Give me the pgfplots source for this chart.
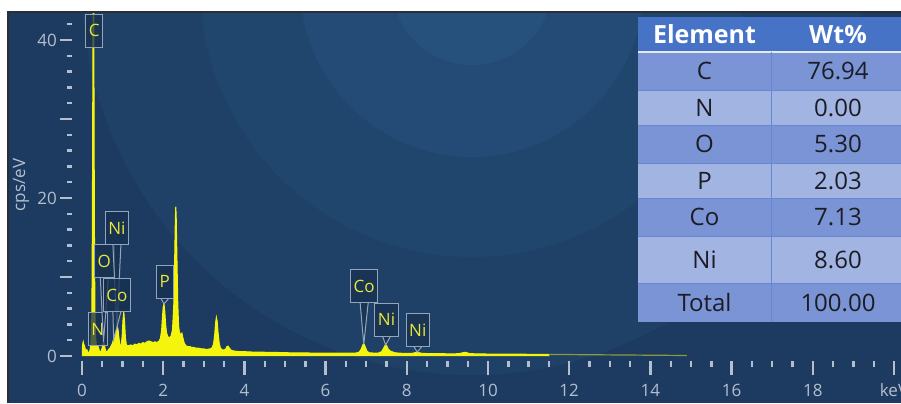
\documentclass[border=0pt]{standalone}
\usepackage{pgfplots}
\pgfplotsset{compat=1.18}
\usepackage{fontspec}
\setmainfont{Open Sans}

\definecolor{panel}{HTML}{1D3B60}
\definecolor{ringA}{HTML}{1F4067}
\definecolor{ringB}{HTML}{21466E}
\definecolor{ringC}{HTML}{234B75}
\definecolor{ringD}{HTML}{27517D}
\definecolor{framec}{HTML}{2A2F36}
\definecolor{tickc}{HTML}{B3BFCE}
\definecolor{specy}{HTML}{F4F40C}
\definecolor{specdim}{HTML}{8C9A3A}
\definecolor{boxfill}{HTML}{17304F}
\definecolor{boxline}{HTML}{93A5BC}
\definecolor{lbly}{HTML}{E8E83A}
\definecolor{thead}{HTML}{4673C6}
\definecolor{tdark}{HTML}{7B94D5}
\definecolor{tlight}{HTML}{A2B4E2}
\definecolor{tline}{HTML}{6688D2}
\definecolor{ttext}{HTML}{1C1C24}

% label pinned to a peak: box centre (x,y), tip (x,y), text
\newcommand{\callout}[5]{%
  \fill[boxfill, fill opacity=0.75] ([xshift=-2pt,yshift=-8.25pt]axis cs:#1,#2) -- (axis cs:#3,#4) -- ([xshift=2pt,yshift=-8.25pt]axis cs:#1,#2) -- cycle;
  \draw[boxline, line width=0.5pt] ([xshift=-2pt,yshift=-8.25pt]axis cs:#1,#2) -- (axis cs:#3,#4) -- ([xshift=2pt,yshift=-8.25pt]axis cs:#1,#2);
  \node[lbl] at (axis cs:#1,#2) {#5};
}

\begin{document}
\begin{tikzpicture}[
  lbl/.style={draw=boxline, line width=0.5pt, fill=boxfill, fill opacity=0.75, text opacity=1,
    text=lbly, font=\fontsize{8.5}{10}\selectfont, minimum height=16.5pt, inner xsep=1.6pt, inner ysep=0pt},
  cell/.style={font=\fontsize{12}{14}\selectfont, text=ttext, anchor=center}]
\path[use as bounding box] (0,0) rectangle (450.5pt,201.5pt);
\clip (0,0) rectangle (450.5pt,201.5pt);

\begin{scope}[x=0.5pt,y=0.5pt]
\fill[white] (0,0) rectangle (901,403);
% panel with soft concentric rings
\begin{scope}
  \clip (8,0) rectangle (901,391);
  \fill[panel] (8,0) rectangle (901,391);
  \fill[ringA] (472,418) circle (390);
  \fill[ringB] (472,418) circle (272);
  \fill[ringC] (472,418) circle (172);
  \fill[ringD] (472,418) circle (80);
\end{scope}
\draw[framec, line width=0.8pt] (8,0) -- (8,391) -- (901,391);
\node[rotate=90, text=tickc, font=\fontsize{8.5}{10}\selectfont] at (21,218) {cps/eV};
\end{scope}

\begin{axis}[
  at={(41pt,23.5pt)}, anchor=south west,
  scale only axis, width=406pt, height=171.5pt,
  xmin=0, xmax=20, ymin=0, ymax=43.42,
  axis x line*=bottom, axis y line*=left,
  axis line style={draw=none},
  tick align=outside,
  xtick={0,2,...,20},
  xticklabels={0,2,4,6,8,10,12,14,16,18,keV},
  minor xtick={0.5,1,...,19.5},
  ytick={0,10,20,30,40},
  yticklabels={0,,20,,40},
  minor ytick={2,4,6,8,12,14,16,18,22,24,26,28,32,34,36,38,42},
  major tick length=6pt, minor tick length=2.5pt,
  every tick/.style={tickc, line width=1.2pt},
  x tick style={yshift=-2.5pt},
  y tick style={xshift=-5pt},
  major x tick style={/pgfplots/major tick length=7pt},
  minor x tick style={/pgfplots/minor tick length=3pt},
  tick label style={text=tickc, font=\fontsize{8.5}{10}\selectfont},
  xticklabel style={yshift=-4.5pt},
  yticklabel style={xshift=-3pt},
]
% main spectrum
\addplot[draw=specy, fill=specy, line width=0.5pt] coordinates {
 (0,0) (0.01,1.1) (0.02,1.6) (0.03,1.8) (0.04,1.5) (0.05,1.2) (0.06,1.3) (0.08,0.9)
 (0.10,0.7) (0.12,0.8) (0.14,0.5) (0.16,0.4) (0.18,0.5) (0.20,0.8) (0.22,1.6) (0.24,4.5)
 (0.25,11) (0.26,24) (0.27,41) (0.28,52) (0.29,44) (0.30,26) (0.31,12) (0.32,5.5)
 (0.33,2.8) (0.35,1.5) (0.37,1.1) (0.39,1.3) (0.41,1.0) (0.43,0.6) (0.45,0.5) (0.47,0.6)
 (0.49,0.9) (0.51,1.4) (0.53,1.8) (0.55,1.5) (0.57,0.9) (0.59,0.6) (0.61,0.5) (0.63,0.6)
 (0.65,0.8) (0.67,0.9) (0.69,1.0) (0.71,1.2) (0.73,1.4) (0.75,1.6) (0.77,2.0) (0.79,2.2)
 (0.81,2.4) (0.83,2.9) (0.85,3.4) (0.87,3.7) (0.89,3.3) (0.91,2.3) (0.93,1.5) (0.95,1.2)
 (0.97,1.5) (0.99,2.6) (1.01,4.6) (1.03,5.6) (1.05,4.2) (1.07,2.3) (1.09,1.5) (1.11,1.3)
 (1.15,1.3) (1.20,1.4) (1.25,1.3) (1.30,1.5) (1.35,1.4) (1.40,1.6) (1.45,1.5) (1.50,1.7)
 (1.55,1.6) (1.60,1.8) (1.65,1.9) (1.70,1.8) (1.75,1.7) (1.80,1.8) (1.85,1.7) (1.90,1.9)
 (1.93,2.2) (1.96,3.2) (1.98,4.8) (2.00,6.2) (2.02,6.6) (2.04,5.6) (2.06,4.0) (2.08,3.0)
 (2.11,2.5) (2.14,2.3) (2.17,2.4) (2.20,2.6) (2.23,3.4) (2.26,6.5) (2.28,11.5) (2.30,17.5)
 (2.31,18.9) (2.32,17.8) (2.34,12) (2.36,6.5) (2.38,3.8) (2.40,3.0) (2.43,2.7) (2.46,2.9)
 (2.49,2.2) (2.52,1.6) (2.56,1.3) (2.60,1.2) (2.65,1.2) (2.70,1.1) (2.75,1.1) (2.80,1.0)
 (2.85,1.0) (2.90,0.95) (2.95,0.9) (3.00,0.9) (3.05,0.85) (3.10,0.85) (3.15,0.9) (3.20,1.0)
 (3.24,1.5) (3.27,2.8) (3.29,4.2) (3.31,4.9) (3.33,4.4) (3.35,3.0) (3.38,1.6) (3.41,1.0)
 (3.45,0.8) (3.50,0.75) (3.54,0.9) (3.57,1.2) (3.60,1.25) (3.63,1.0) (3.67,0.75) (3.72,0.65)
 (3.80,0.6) (3.90,0.55) (4.00,0.55) (4.2,0.5) (4.4,0.5) (4.6,0.45) (4.8,0.45) (5.0,0.42)
 (5.2,0.4) (5.4,0.4) (5.6,0.38) (5.8,0.37) (6.0,0.36) (6.2,0.36) (6.4,0.35) (6.6,0.35)
 (6.75,0.38) (6.83,0.5) (6.88,0.9) (6.92,1.45) (6.95,1.5) (6.98,1.1) (7.02,0.6) (7.08,0.4)
 (7.2,0.37) (7.3,0.38) (7.38,0.55) (7.43,1.0) (7.47,1.4) (7.50,1.35) (7.54,0.9) (7.6,0.6)
 (7.66,0.5) (7.72,0.4) (7.85,0.35) (8.0,0.33) (8.15,0.35) (8.22,0.45) (8.26,0.5) (8.30,0.42)
 (8.38,0.33) (8.6,0.3) (8.8,0.3) (9.0,0.28) (9.2,0.28) (9.32,0.33) (9.40,0.45) (9.46,0.45)
 (9.54,0.32) (9.7,0.27) (10.0,0.25) (10.5,0.24) (11.0,0.22) (11.5,0.2) (11.5,0)
};
% faint high-energy tail
\addplot[draw=specdim, line width=0.6pt] coordinates {
 (11.5,0.2) (12,0.18) (12.5,0.16) (13,0.14) (13.5,0.12) (14,0.1) (14.5,0.08) (14.9,0.06)
};

% element labels
\node[lbl] at (axis cs:0.30,41.2) {C};
\node[lbl] at (axis cs:0.39,3.4) {N};
\callout{0.55}{12.0}{0.53}{1.8}{O}
\callout{0.86}{16.2}{0.86}{3.5}{Ni}
\callout{0.86}{7.7}{0.78}{2.1}{Co}
\callout{2.04}{9.4}{2.02}{6.6}{P}
\callout{6.95}{8.8}{6.94}{1.5}{Co}
\callout{7.50}{4.6}{7.48}{1.4}{Ni}
\callout{8.27}{3.3}{8.26}{0.5}{Ni}
\end{axis}

% composition table
\begin{scope}[x=0.5pt,y=0.5pt]
\fill[thead] (638,351) rectangle (905,386);
\fill[tdark]  (638,313) rectangle (905,351);
\fill[tlight] (638,278) rectangle (905,313);
\fill[tdark]  (638,240) rectangle (905,278);
\fill[tlight] (638,205) rectangle (905,240);
\fill[tdark]  (638,167) rectangle (905,205);
\fill[tlight] (638,120) rectangle (905,167);
\fill[tdark]  (638,81)  rectangle (905,120);
\draw[white!85!thead, line width=1pt] (638,351) -- (905,351);
\foreach \yy in {313,278,240,205,167,120} \draw[tline, line width=0.5pt] (638,\yy) -- (905,\yy);
\draw[tline, line width=0.5pt] (771,81) -- (771,351);
\node[font=\bfseries\fontsize{12.5}{14}\selectfont, text=white] at (704.5,368.5) {Element};
\node[font=\bfseries\fontsize{12.5}{14}\selectfont, text=white] at (838,368.5) {Wt\%};
\foreach \el/\wt/\yc in {C/76.94/332, N/0.00/295.5, O/5.30/259, P/2.03/222.5, Co/7.13/186, Ni/8.60/143.5, Total/100.00/100.5} {
  \node[cell] at (704.5,\yc) {\el};
  \node[cell] at (838,\yc) {\wt};
}
\end{scope}
\end{tikzpicture}
\end{document}
